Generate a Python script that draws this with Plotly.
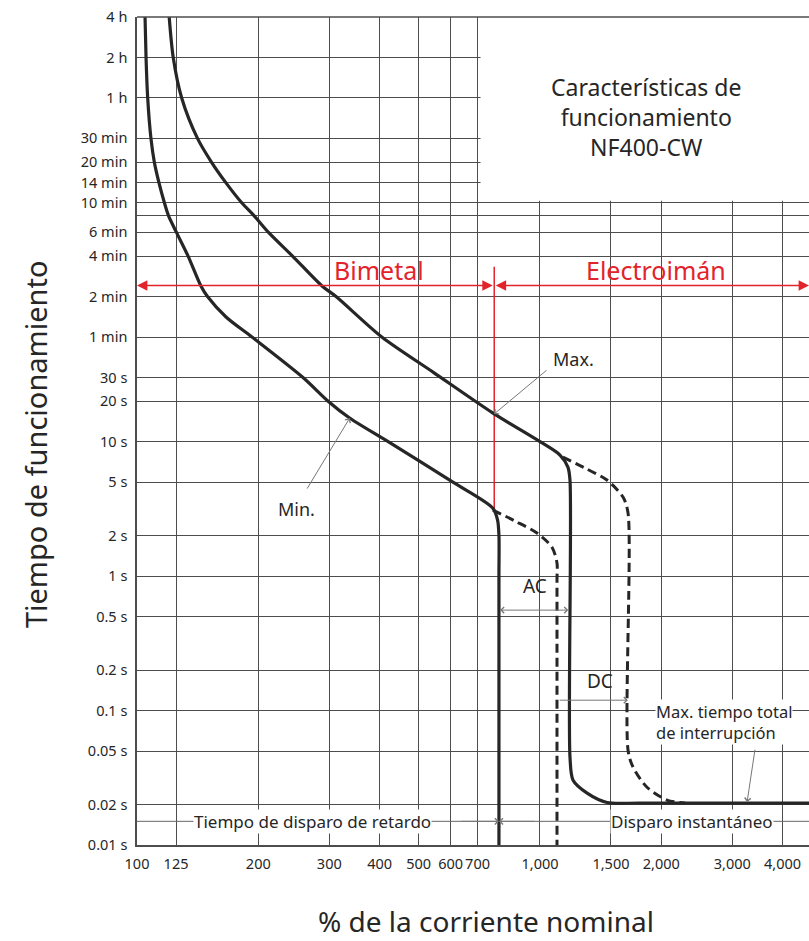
import numpy as np
import plotly.graph_objects as go

# ---------------- data ----------------
y_tickvals = [14400, 7200, 3600, 1800, 1200, 840, 600, 480, 360, 240, 120, 60,
              30, 20, 10, 5, 2, 1, 0.5, 0.2, 0.1, 0.05, 0.02, 0.01]
y_ticktext = ["4 h", "2 h", "1 h", "30 min", "20 min", "14 min", "10 min", "", "6 min",
              "4 min", "2 min", "1 min", "30 s", "20 s", "10 s", "5 s", "2 s", "1 s",
              "0.5 s", "0.2 s", "0.1 s", "0.05 s", "0.02 s", "0.01 s"]
x_tickvals = [100, 125, 200, 300, 400, 500, 600, 700, 1000, 1500, 2000, 3000, 4000]
x_ticktext = ["100", "125", "200", "300", "400", "500", "600", "700",
              "1,000", "1,500", "2,000", "3,000", "4,000"]

# Min. operating curve (% rated current, seconds)
min_pct = [104.7, 105.3, 106.3, 108.3, 110.4, 113.4, 116.9, 119.7, 125.3, 133.9, 144.1, 149.6,
           166.3, 192.9, 258.2, 298, 337, 420, 608, 764, 785, 791, 791, 791]
min_sec = [14400, 7200, 3600, 1800, 1200, 840, 600, 480, 360, 240, 143.8, 120,
           84.6, 60, 30, 20, 15, 10, 5, 3.2, 2.6, 2.0, 1.0, 0.01]

# Max. operating curve
max_pct = [120.2, 123.0, 129.1, 141.3, 153.0, 166.3, 181.7, 195.1, 212.0, 243.2, 287.8, 311.8,
           405, 542.7, 764.5, 1000, 1121, 1173, 1187, 1187, 1208, 1309, 1467, 1770, 4651]
max_sec = [14400, 7200, 3600, 1800, 1200, 840, 600, 480, 360, 240, 143.8, 120,
           60, 32.9, 16.3, 10, 7.95, 6.47, 5.18, 0.045, 0.0303, 0.0243, 0.0207, 0.0205, 0.0205]

# AC dashed (max total interruption, AC)
ac_pct = [764, 866, 983, 1071, 1102, 1102, 1102]
ac_sec = [3.1, 2.57, 2.09, 1.64, 1.25, 0.93, 0.01]

# DC dashed
dc_pct = [1140, 1293, 1466, 1607, 1654, 1654, 1702, 1843, 2066, 2291]
dc_sec = [7.68, 6.36, 5.18, 3.87, 2.94, 0.0507, 0.0379, 0.0269, 0.0216, 0.0205]

boundary_pct = 770          # bimetal / electromagnet boundary
boundary_sec = [200, 3.1]
region_arrow_sec = 145
inst_min_pct = 791
dim_line_sec = 0.015
x_max = 4651
y_max = 14400

# ---------------- figure ----------------
L = np.log10
FONT = "Noto Sans"
TXT = "#262626"
GRID = "#4d4d4d"
RED = "#e3232c"
CURVE = "#262626"

fig = go.Figure()

fig.add_trace(go.Scatter(x=[100, x_max], y=[dim_line_sec, dim_line_sec], mode="lines",
                         line=dict(color="#666666", width=1), hoverinfo="skip"))
fig.add_trace(go.Scatter(x=[boundary_pct, boundary_pct], y=boundary_sec, mode="lines",
                         line=dict(color=RED, width=1.5), hoverinfo="skip"))
fig.add_trace(go.Scatter(x=ac_pct, y=ac_sec, mode="lines",
                         line=dict(color=CURVE, width=3, dash="9px,5px", shape="spline", smoothing=0.8)))
fig.add_trace(go.Scatter(x=dc_pct, y=dc_sec, mode="lines",
                         line=dict(color=CURVE, width=3, dash="9px,5px", shape="spline", smoothing=0.8)))
fig.add_trace(go.Scatter(x=min_pct, y=min_sec, mode="lines",
                         line=dict(color=CURVE, width=3.2, shape="spline", smoothing=0.8)))
fig.add_trace(go.Scatter(x=max_pct, y=max_sec, mode="lines",
                         line=dict(color=CURVE, width=3.2, shape="spline", smoothing=0.8)))

axis_common = dict(type="log", showgrid=True, gridcolor=GRID, gridwidth=1.3,
                   showline=True, linecolor=GRID, linewidth=1.5, ticks="", zeroline=False,
                   tickangle=0, ticklabelstandoff=5)

fig.update_layout(
    width=809, height=941,
    margin=dict(l=137, r=0, t=17, b=96),
    paper_bgcolor="white", plot_bgcolor="white",
    showlegend=False,
    xaxis=dict(range=[2, L(x_max)], tickvals=x_tickvals, ticktext=x_ticktext,
               tickfont=dict(family=FONT, size=14.5, color=TXT), **axis_common),
    yaxis=dict(range=[-2, L(y_max)], tickvals=y_tickvals, ticktext=y_ticktext,
               tickfont=dict(family=FONT, size=14.5, color=TXT), **axis_common),
)

# white title box (covers grid in the upper right)
fig.add_shape(type="rect", xref="x", yref="y", x0=712, x1=x_max * 1.2, y0=620, y1=y_max * 1.2,
              fillcolor="white", line=dict(width=0), layer="between")
# top border
fig.add_shape(type="line", xref="paper", yref="paper", x0=0, x1=1, y0=1, y1=1,
              line=dict(color=GRID, width=1.5), layer="above")

ann = []
def arrow(x, y, ax, ay, color="#777777", width=1, side="end", head=4, size=1.2):
    ann.append(dict(x=x, y=y, ax=ax, ay=ay, xref="x", yref="y", axref="x", ayref="y",
                    text="", showarrow=True, arrowhead=head, startarrowhead=head,
                    arrowside=side, arrowcolor=color, arrowwidth=width,
                    arrowsize=size, startarrowsize=size, standoff=0, startstandoff=0))

def text(x, y, t, size=14, color=TXT, bg=None, xanchor="center", align="center",
         xref="x", yref="y", angle=0):
    d = dict(x=x, y=y, text=t, xref=xref, yref=yref, showarrow=False,
             font=dict(family=FONT, size=size, color=color), xanchor=xanchor, yanchor="middle",
             align=align, textangle=angle, borderpad=0)
    if bg:
        d["bgcolor"] = bg
    ann.append(d)

# red region arrows
arrow(2.0, L(region_arrow_sec), L(boundary_pct), L(region_arrow_sec), color=RED, width=1.6,
      side="end+start", head=2, size=1.3)
arrow(L(x_max), L(region_arrow_sec), L(boundary_pct), L(region_arrow_sec), color=RED, width=1.6,
      side="end+start", head=2, size=1.3)
text(2.6005, 2.275, "Bimetal", size=25, color=RED)
text(3.288, 2.275, "Electroimán", size=25, color=RED)

# title in box
text(3.263, 3.411, "Características de<br>funcionamiento<br>NF400-CW", size=23)

# Max / Min labels
arrow(2.886, 1.205, 3.02, 1.54)
text(3.084, 1.615, "Max.", size=18)
arrow(2.528, 1.176, 2.42, 0.64)
text(2.397, 0.4985, "Min.", size=18)

# AC / DC
text(2.988, -0.07, "AC", size=19)
arrow(2.901, -0.253, 3.074, -0.253, side="end+start")
text(3.149, -0.78, "DC", size=19)
arrow(3.218, -0.923, 3.045, -0.923)

text(3.285, -1.086, "Max. tiempo total<br>de interrupción", size=16.5, bg="white",
     xanchor="left", align="left")
arrow(3.514, -1.68, 3.534, -1.28)

# delay / instantaneous dimension line
text(2.4355, L(dim_line_sec), "Tiempo de disparo de retardo", size=17, bg="white")
text(3.378, L(dim_line_sec), "Disparo instantáneo", size=17, bg="white")
arrow(L(inst_min_pct), L(dim_line_sec), 2.80, L(dim_line_sec))
arrow(L(inst_min_pct), L(dim_line_sec), 2.99, L(dim_line_sec))

# axis titles
text(-0.152, 0.484, "Tiempo de funcionamiento", size=29, xref="paper", yref="paper", angle=-90)
text(0.519, -0.0915, "% de la corriente nominal", size=28, xref="paper", yref="paper")

fig.update_layout(annotations=ann)
fig.write_html("out.html")
